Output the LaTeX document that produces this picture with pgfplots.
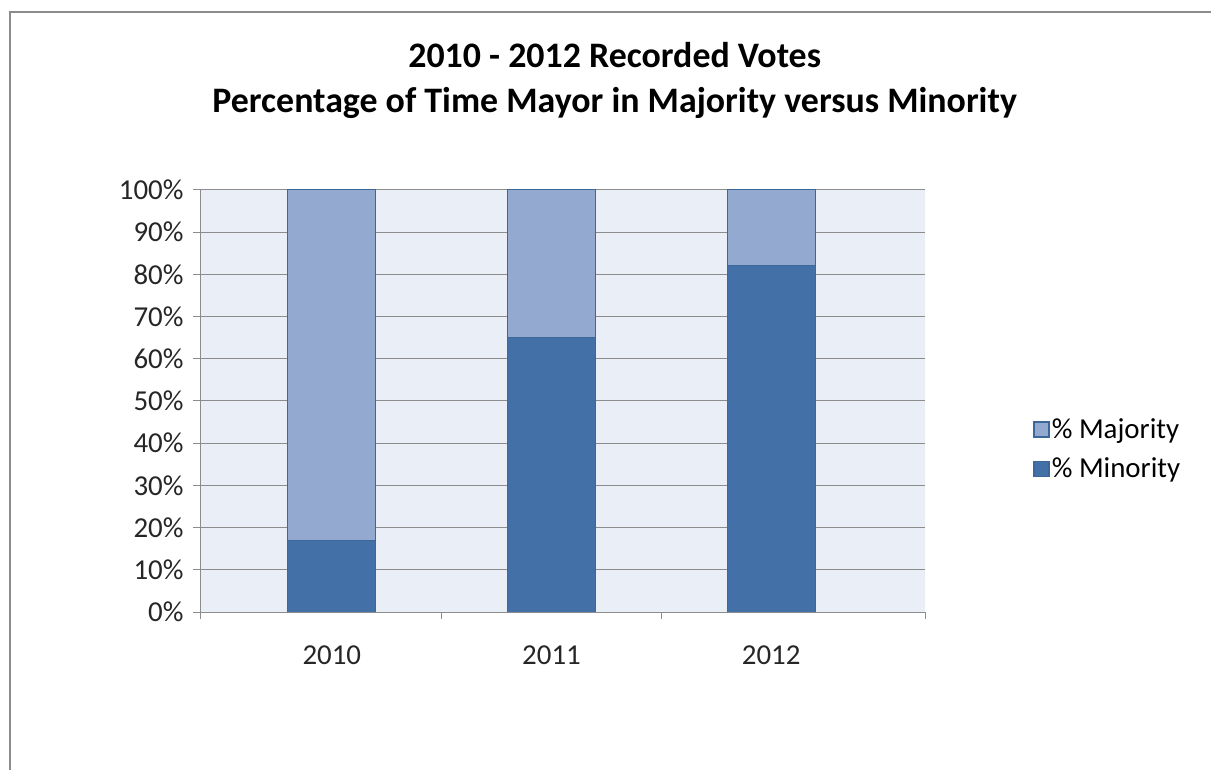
\documentclass[border=0pt]{standalone}
\usepackage{pgfplots}
\pgfplotsset{compat=1.18}
\usepackage{fontspec}
\setmainfont{Carlito}
\definecolor{majfill}{HTML}{94A9D0}
\definecolor{minfill}{HTML}{4371A7}
\definecolor{barline}{HTML}{3C679C}
\definecolor{wallfill}{HTML}{E9EEF7}
\definecolor{gridc}{HTML}{8C8C8C}
\definecolor{framec}{HTML}{8C8C8C}
\begin{document}
\begin{tikzpicture}[x=1bp,y=1bp]
\begin{axis}[
  at={(200bp,158bp)}, anchor=south west,
  width=725bp, height=422bp, scale only axis,
  ybar stacked, bar width=88bp,
  xmin=-0.6, xmax=2.7, ymin=0, ymax=100,
  xtick={-0.6,0.5,1.5,2.7}, xticklabels={},
  extra x ticks={0,1,2}, extra x tick labels={2010,2011,2012},
  extra x tick style={major tick length=0pt, xticklabel style={yshift=-30bp}},
  ytick={0,10,...,100},
  yticklabel={\pgfmathprintnumber{\tick}\%},
  /pgf/number format/assume math mode=true,
  ticklabel style={font=\fontsize{29}{33}\selectfont, text=black!85},
  tick style={gridc, line width=1pt},
  major tick length=7bp,
  tick align=outside,
  axis lines*=left,
  axis line style={gridc, line width=1pt},
  ymajorgrids, grid style={gridc, line width=1pt},
  axis background/.style={fill=wallfill},
  yticklabel style={xshift=-6bp},
  title={2010 - 2012 Recorded Votes\\Percentage of Time Mayor in Majority versus Minority},
  title style={font=\bfseries\fontsize{36}{45}\selectfont, align=center, at={(0.572,1)}, anchor=south, yshift=62bp},
  legend style={at={(1.145,0.386)}, anchor=west, draw=none, fill=none,
    font=\fontsize{29}{33}\selectfont, row sep=14bp,
    /tikz/every even column/.append style={column sep=4bp}},
  legend cell align=left,
  reverse legend,
  legend image code/.code={\draw[#1, line width=1.5pt] (0bp,-7.5bp) rectangle (15bp,7.5bp);},
]
\addplot[fill=minfill, draw=barline, line width=1pt] coordinates {(0,17) (1,65) (2,82)};
\addplot[fill=majfill, draw=barline, line width=1pt] coordinates {(0,83) (1,35) (2,18)};
\legend{\% Minority, \% Majority}
\end{axis}
\draw[framec, line width=2.5pt] (10bp,0bp) -- (10bp,758bp) -- (1211bp,758bp);
\pgfresetboundingbox
\useasboundingbox (0,0) rectangle (1211bp,770bp);
\end{tikzpicture}
\end{document}
